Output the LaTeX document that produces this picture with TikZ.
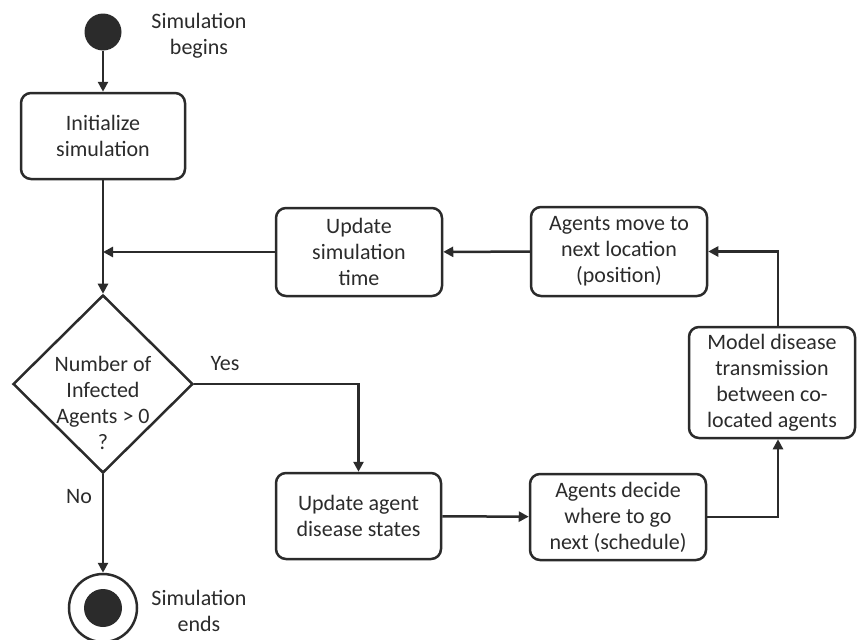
\documentclass[tikz,border=0pt]{standalone}
\usepackage{fontspec}
\setmainfont{Carlito}
\usetikzlibrary{arrows.meta,shapes.geometric,calc}
\definecolor{ink}{HTML}{2B2B2B}
\begin{document}
\begin{tikzpicture}[x=1pt,y=-1pt,
  every node/.style={text=ink, font=\fontsize{22}{26}\selectfont},
  box/.style={draw=ink, line width=2.5pt, rounded corners=10pt, align=center, inner sep=0pt},
  conn/.style={draw=ink, line width=2.5pt, -{Triangle[length=10pt,width=10pt]}},
  lbl/.style={align=center}]
\useasboundingbox (0,0) rectangle (857,640);

\node[circle, fill=ink, minimum size=37pt, inner sep=0pt] (start) at (103,32) {};
\node[lbl] (begtxt) at (199,36) {Simulation\\begins};
\node[box, minimum width=164pt, minimum height=86pt] (init) at (103,136) {Initialize\\simulation};
\node[draw=ink, line width=2.5pt, diamond, minimum width=180pt, minimum height=178pt, inner sep=0pt] (dec) at (103,384) {};
\node[lbl] (dectxt) at (103,403) {Number of\\Infected\\Agents > 0\\?};
\node[box, minimum width=166pt, minimum height=88pt] (usim) at (359,252) {Update\\simulation\\time};
\node[box, minimum width=176pt, minimum height=89pt] (amove) at (619,251.5) {Agents move to\\next location\\(position)};
\node[box, minimum width=166pt, minimum height=111pt] (model) at (772,382.5) {Model disease\\transmission\\between co-\\located agents};
\node[box, minimum width=165pt, minimum height=86pt] (upd) at (358.5,516) {Update agent\\disease states};
\node[box, minimum width=176pt, minimum height=86pt] (decide) at (618,517) {Agents decide\\where to go\\next (schedule)};
\node[circle, draw=ink, line width=2.5pt, minimum size=68pt, inner sep=0pt] (end) at (103,608) {};
\node[circle, fill=ink, minimum size=38pt, inner sep=0pt] (endin) at (end.center) {};
\node[lbl] (endtxt) at (199,611) {Simulation\\ends};
\node (yes) at (225,364) {Yes};
\node (no) at (79,497) {No};

\draw[conn] (start) -- (init);
\draw[conn] (init) -- (dec);
\coordinate (jn) at (init.south |- usim.west);
\draw[conn] (usim.west) -- (jn);
\draw[conn] (amove) -- (usim);
\coordinate (mtop) at ($(model.north)+(6,0)$);
\draw[conn] (mtop) |- (amove.east);
\draw[conn] (dec.east) -| (upd.north);
\draw[conn] (upd) -- (decide);
\coordinate (mbot) at ($(model.south)+(6,0)$);
\draw[conn] (decide.east) -| (mbot);
\draw[conn] (dec) -- (end);
\end{tikzpicture}
\end{document}
